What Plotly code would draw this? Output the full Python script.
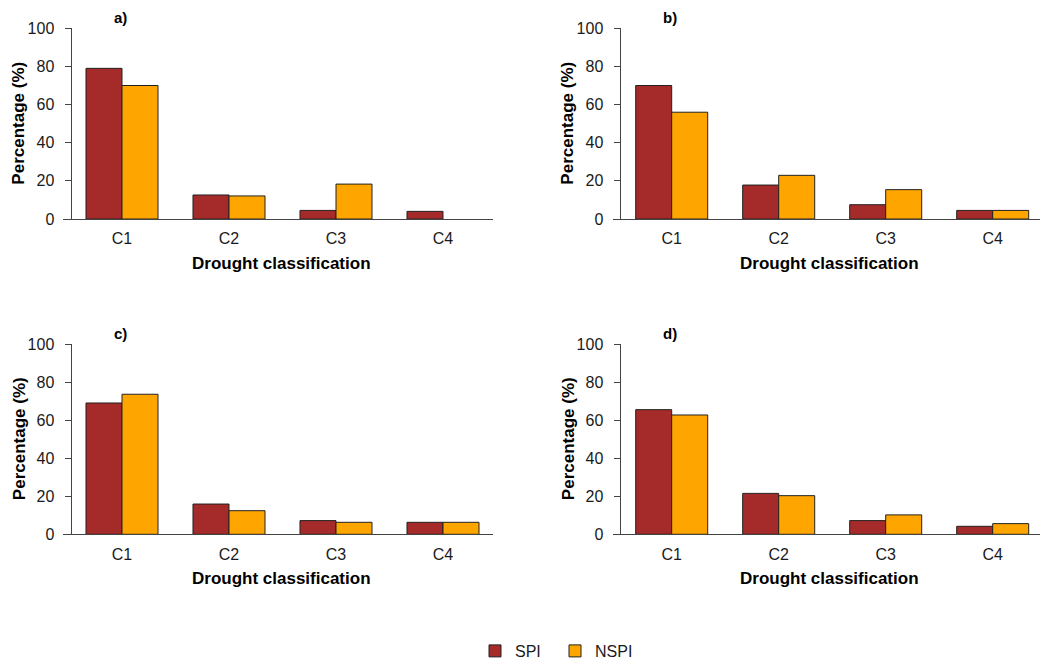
import plotly.graph_objects as go

categories = ["C1", "C2", "C3", "C4"]
panel_labels = ["a)", "b)", "c)", "d)"]
spi_a = [79, 12.6, 4.5, 4.0]
nspi_a = [70, 12.1, 18.3, 0]
spi_b = [70, 17.8, 7.5, 4.5]
nspi_b = [56, 22.9, 15.4, 4.5]
spi_c = [69, 15.9, 7.2, 6.3]
nspi_c = [73.6, 12.4, 6.3, 6.3]
spi_d = [65.5, 21.5, 7.2, 4.2]
nspi_d = [62.7, 20.3, 10.2, 5.6]
y_ticks = [0, 20, 40, 60, 80, 100]

spi_series = [spi_a, spi_b, spi_c, spi_d]
nspi_series = [nspi_a, nspi_b, nspi_c, nspi_d]

W, H = 1043, 664
FONT = "Liberation Sans, Arial, sans-serif"
SPI_COL = "#A52A2A"
NSPI_COL = "#FFA500"
TXT = "#1a1a1a"
AX = "#444444"

def px_x(p):
    return p / W

def px_y(p):
    return 1 - p / H

def outline(vals):
    return [1 if v > 0 else 0 for v in vals]

# pixel geometry of panels: (line_left, yaxis_x, right, top, bottom, c1_center)
panels = [
    (63, 70.5, 493, 28.3, 219, 122),
    (613, 619.5, 1039.5, 28.3, 219, 671.7),
    (63, 70.5, 493, 344, 534.3, 122),
    (613, 619.5, 1039.5, 344, 534.3, 671.7),
]
spacing = 107.0

fig = go.Figure()
annotations = []
layout = {}
for i, (l, yx, r, t, b, c1) in enumerate(panels):
    n = i + 1
    xa = "x" if n == 1 else f"x{n}"
    ya = "y" if n == 1 else f"y{n}"
    fig.add_trace(go.Bar(x=list(range(4)), y=spi_series[i], name="SPI",
                         marker=dict(color=SPI_COL,
                                     line=dict(color="#222222", width=outline(spi_series[i]))),
                         xaxis=xa, yaxis=ya, showlegend=(i == 0), legendgroup="SPI"))
    fig.add_trace(go.Bar(x=list(range(4)), y=nspi_series[i], name="NSPI",
                         marker=dict(color=NSPI_COL,
                                     line=dict(color="#222222", width=outline(nspi_series[i]))),
                         xaxis=xa, yaxis=ya, showlegend=(i == 0), legendgroup="NSPI"))
    xr = [-(c1 - l) / spacing, 3 + (r - (c1 + 3 * spacing)) / spacing]
    xkey = "xaxis" if n == 1 else f"xaxis{n}"
    ykey = "yaxis" if n == 1 else f"yaxis{n}"
    layout[xkey] = dict(domain=[px_x(l), px_x(r)], range=xr, anchor=ya,
                        tickmode="array", tickvals=list(range(4)), ticktext=categories,
                        showline=True, linecolor=AX, linewidth=1, ticks="",
                        ticklabelstandoff=5,
                        showgrid=False, zeroline=False,
                        tickfont=dict(family=FONT, size=16, color=TXT))
    layout[ykey] = dict(domain=[px_y(b), px_y(t)], range=[0, 100], anchor="free",
                        position=px_x(yx),
                        tickmode="array", tickvals=y_ticks,
                        showline=True, linecolor=AX, linewidth=1,
                        ticks="outside", ticklen=6, tickcolor=AX, tickwidth=1,
                        ticklabelstandoff=7,
                        showgrid=False, zeroline=False,
                        tickfont=dict(family=FONT, size=16, color=TXT))
    # x title
    annotations.append(dict(text="<b>Drought classification</b>", xref="paper", yref="paper",
                            x=px_x((l + 7 + r) / 2), y=px_y(b + 44), xanchor="center", yanchor="middle",
                            showarrow=False, font=dict(family=FONT, size=17, color="black")))
    # y title
    annotations.append(dict(text="<b>Percentage (%)</b>", xref="paper", yref="paper",
                            x=px_x(yx - 51.5), y=px_y((t + b) / 2), xanchor="center", yanchor="middle",
                            textangle=-90, showarrow=False,
                            font=dict(family=FONT, size=17, color="black")))
    # panel label
    annotations.append(dict(text=f"<b>{panel_labels[i]}</b>", xref="paper", yref="paper",
                            x=px_x(yx + 41.5), y=px_y(t - 11), xanchor="left", yanchor="middle",
                            showarrow=False, font=dict(family=FONT, size=15, color="black")))

fig.update_layout(
    width=W, height=H,
    margin=dict(l=0, r=0, t=0, b=0, autoexpand=False),
    paper_bgcolor="white", plot_bgcolor="white",
    barmode="group", bargap=0.327, bargroupgap=0,
    showlegend=True,
    legend=dict(orientation="h", xref="container", yref="container",
                x=px_x(475), y=px_y(651), xanchor="left", yanchor="middle",
                entrywidth=35, entrywidthmode="pixels",
                font=dict(family=FONT, size=16, color=TXT), bgcolor="rgba(0,0,0,0)",
                itemclick=False, itemdoubleclick=False),
    annotations=annotations,
    **layout,
)

fig.write_html("out.html")
